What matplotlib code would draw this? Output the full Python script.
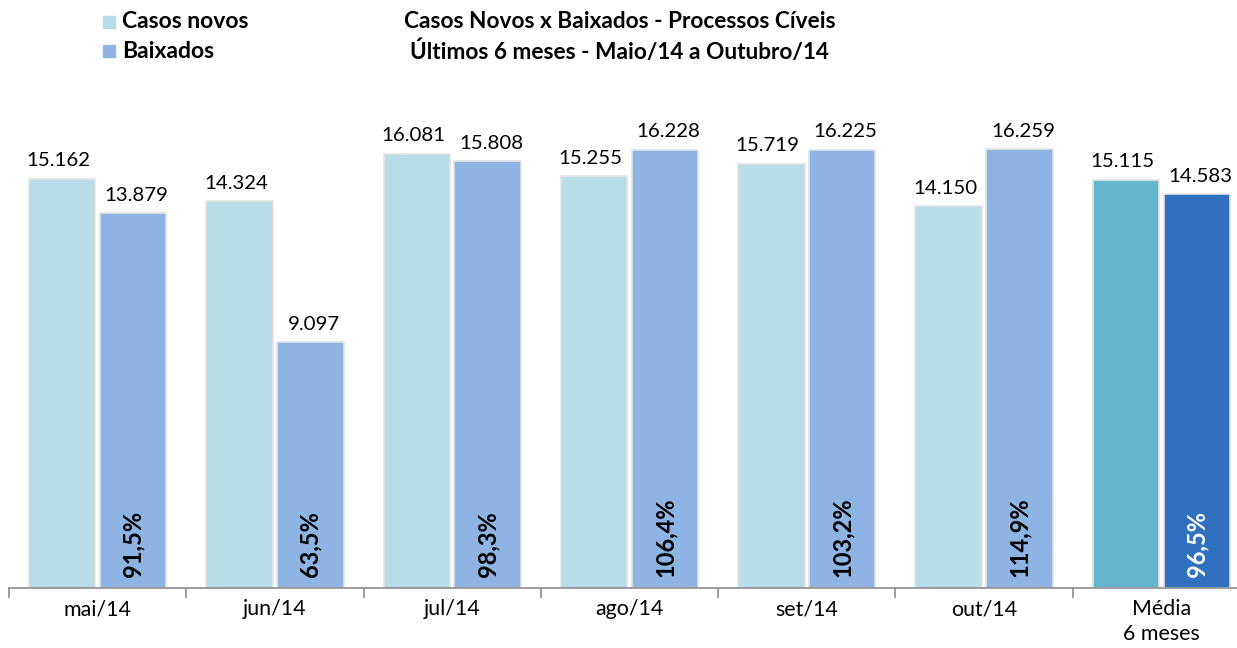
import matplotlib
matplotlib.use("Agg")
import matplotlib.pyplot as plt
import numpy as np

plt.rcParams["font.family"] = ["Lato", "DejaVu Sans"]

categories = ["mai/14", "jun/14", "jul/14", "ago/14", "set/14", "out/14", "Média\n6 meses"]
casos_novos = [15162, 14324, 16081, 15255, 15719, 14150, 15115]
baixados = [13879, 9097, 15808, 16228, 16225, 16259, 14583]
percent_labels = ["91,5%", "63,5%", "98,3%", "106,4%", "103,2%", "114,9%", "96,5%"]


def fmt_thousands(v):
    return f"{v:,}".replace(",", ".")


fig = plt.figure(figsize=(12.37, 6.48), dpi=100)
ax = fig.add_axes([9 / 1237, 60 / 648, 1241 / 1237, 486 / 648])

x = np.arange(len(categories))
width = 0.375
offset = 0.2

light_colors = ["#B7DDE8"] * 6 + ["#64B5CE"]
dark_colors = ["#8EB4E3"] * 6 + ["#2F70BF"]

ax.bar(x - offset, casos_novos, width, color=light_colors, edgecolor="#E4E4E4", linewidth=1.2)
ax.bar(x + offset, baixados, width, color=dark_colors, edgecolor="#E4E4E4", linewidth=1.2)

for i in range(len(categories)):
    ax.text(x[i] - offset - 0.02, casos_novos[i] + 350, fmt_thousands(casos_novos[i]),
            ha="center", va="bottom", fontsize=14.7)
    ax.text(x[i] + offset + 0.02, baixados[i] + 350, fmt_thousands(baixados[i]),
            ha="center", va="bottom", fontsize=14.7)
    pct_color = "white" if i == len(categories) - 1 else "black"
    ax.text(x[i] + offset, 400, percent_labels[i], rotation=90, ha="center", va="bottom",
            fontsize=17, fontweight="bold", color=pct_color)

ax.set_xlim(-0.5, len(categories) - 0.5)
ax.set_ylim(0, 18000)
ax.set_yticks([])
for side in ["left", "right", "top"]:
    ax.spines[side].set_visible(False)
ax.spines["bottom"].set_color("#8C8C8C")
ax.spines["bottom"].set_linewidth(1.2)

ax.set_xticks(x)
ax.set_xticklabels(categories, fontsize=15.4, linespacing=1.3)
ax.tick_params(axis="x", length=0, pad=8)
ax.set_xticks(np.arange(-0.5, len(categories), 1.0), minor=True)
ax.tick_params(axis="x", which="minor", length=7, color="#8C8C8C", width=1.2)

fig.text(620 / 1237, 1 - 21 / 648, "Casos Novos x Baixados - Processos Cíveis",
         ha="center", va="center", fontsize=16.3, fontweight="bold")
fig.text(620 / 1237, 1 - 52 / 648, "Últimos 6 meses - Maio/14 a Outubro/14",
         ha="center", va="center", fontsize=16.3, fontweight="bold")

legend_items = [("Casos novos", "#B7DDE8", 22), ("Baixados", "#8EB4E3", 51)]
for label, color, ypix in legend_items:
    fig.patches.append(plt.Rectangle((103 / 1237, 1 - (ypix + 6) / 648), 12 / 1237, 12 / 648,
                                     transform=fig.transFigure, color=color, figure=fig))
    fig.text(122 / 1237, 1 - ypix / 648, label, ha="left", va="center",
             fontsize=16.5, fontweight="bold")

fig.savefig("out.png", dpi=100)
